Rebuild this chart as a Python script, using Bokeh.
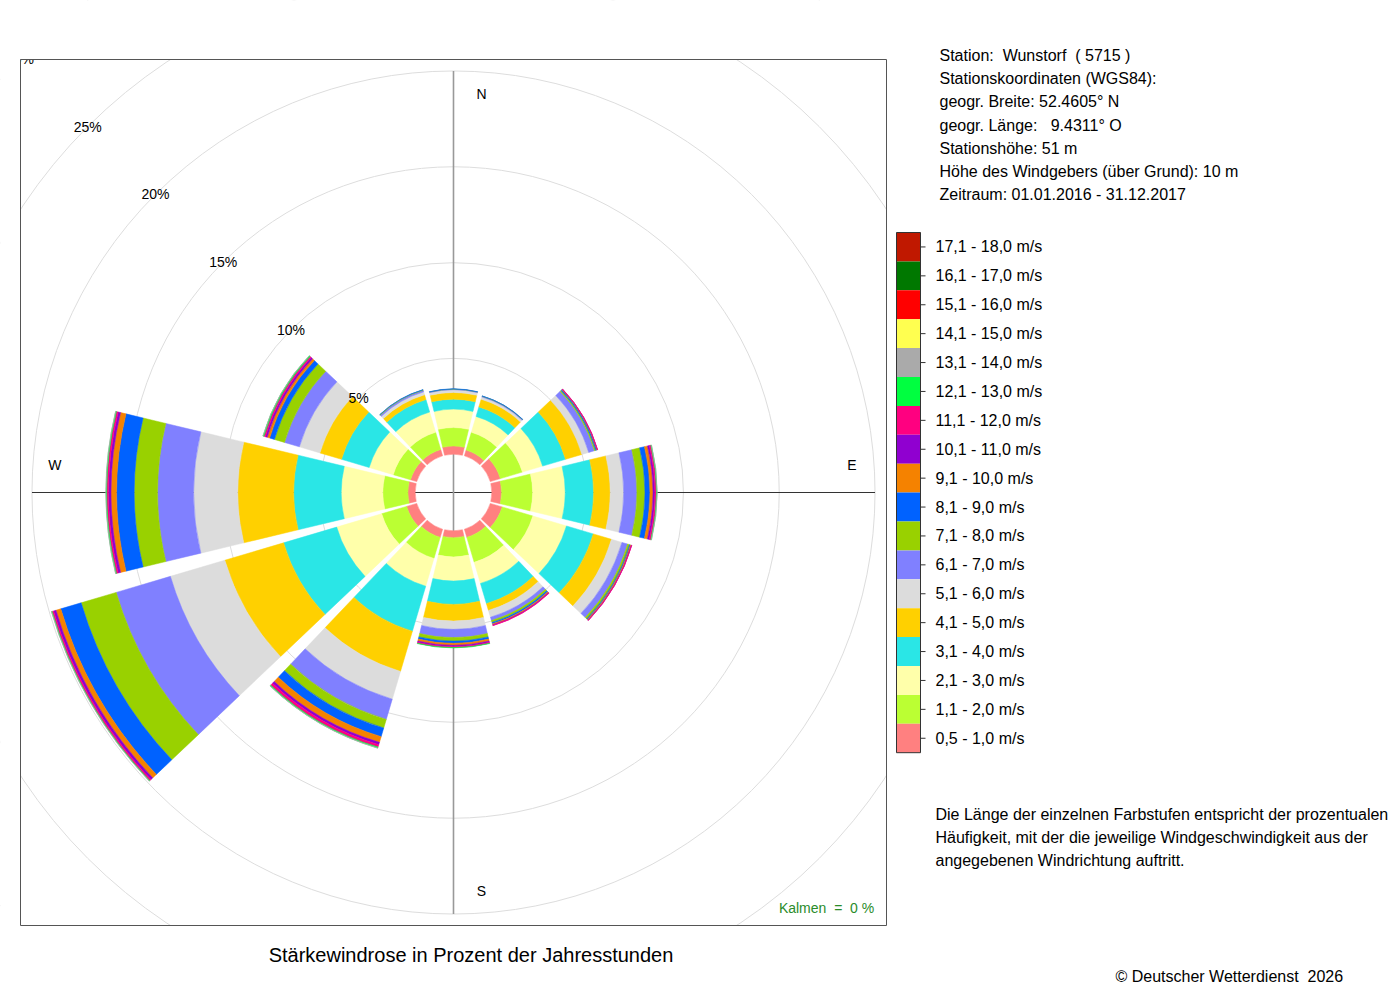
from bokeh.plotting import figure
from bokeh.models import Range1d, ColumnDataSource
from bokeh.layouts import row
from bokeh.core.properties import value
from bokeh.embed import file_html
from bokeh.resources import INLINE
import math

# ---------------- data ----------------
directions = [0, 30, 60, 90, 120, 150, 180, 210, 240, 270, 300, 330]

speed_classes = ["0,5 - 1,0 m/s", "1,1 - 2,0 m/s", "2,1 - 3,0 m/s", "3,1 - 4,0 m/s",
                 "4,1 - 5,0 m/s", "5,1 - 6,0 m/s", "6,1 - 7,0 m/s", "7,1 - 8,0 m/s",
                 "8,1 - 9,0 m/s", "9,1 - 10,0 m/s", "10,1 - 11,0 m/s", "11,1 - 12,0 m/s",
                 "12,1 - 13,0 m/s", "13,1 - 14,0 m/s", "14,1 - 15,0 m/s", "15,1 - 16,0 m/s",
                 "16,1 - 17,0 m/s", "17,1 - 18,0 m/s"]

class_colors = ["#FF8080", "#BBFF33", "#FFFFAA", "#2AE6E6", "#FFD000", "#DCDCDC",
                "#8080FF", "#99D100", "#0062FF", "#F58200", "#9000D0", "#FF0080",
                "#00FF40", "#AAAAAA", "#FFFF50", "#FF0000", "#007800", "#C01800"]

# percent of hours per direction sector and speed class (low -> high)
f000 = [0.43, 0.96, 0.96, 0.52, 0.35, 0.14, 0.03, 0.01, 0.01, 0, 0, 0, 0, 0, 0, 0, 0, 0]
f030 = [0.31, 0.97, 0.86, 0.52, 0.42, 0.12, 0.04, 0.01, 0.01, 0, 0, 0, 0, 0, 0, 0, 0, 0]
f060 = [0.55, 1.20, 1.10, 1.25, 0.89, 0.37, 0.31, 0.07, 0.06, 0.03, 0.01, 0.01, 0, 0, 0, 0, 0, 0]
f090 = [0.51, 1.62, 1.70, 1.48, 0.87, 0.70, 0.69, 0.42, 0.26, 0.16, 0.10, 0.08, 0.03, 0.01, 0, 0, 0, 0]
f120 = [0.65, 1.67, 1.83, 1.46, 0.99, 0.57, 0.31, 0.10, 0.05, 0.05, 0.02, 0.01, 0, 0, 0, 0, 0, 0]
f150 = [0.44, 1.36, 1.15, 1.10, 0.37, 0.37, 0.18, 0.10, 0.08, 0.05, 0.03, 0.02, 0, 0, 0, 0, 0, 0]
f180 = [0.36, 1.00, 1.26, 1.22, 0.87, 0.43, 0.43, 0.18, 0.12, 0.10, 0.07, 0.05, 0.02, 0, 0, 0, 0, 0]
f210 = [0.44, 1.15, 1.51, 2.45, 2.19, 1.51, 1.10, 0.47, 0.47, 0.31, 0.13, 0.13, 0.05, 0.01, 0, 0, 0, 0]
f240 = [0.55, 1.36, 2.45, 2.89, 3.20, 2.96, 2.95, 1.91, 1.11, 0.26, 0.13, 0.08, 0.03, 0.01, 0, 0, 0, 0]
f270 = [0.38, 1.31, 2.17, 2.48, 2.92, 2.30, 1.88, 1.22, 0.92, 0.29, 0.13, 0.09, 0.04, 0.01, 0, 0, 0, 0]
f300 = [0.34, 0.94, 1.31, 1.51, 1.17, 1.12, 0.81, 0.55, 0.26, 0.13, 0.10, 0.08, 0.05, 0.01, 0, 0, 0, 0]
f330 = [0.34, 0.94, 1.10, 0.68, 0.26, 0.16, 0.08, 0.03, 0.01, 0, 0, 0, 0, 0, 0, 0, 0, 0]
freqs = [f000, f030, f060, f090, f120, f150, f180, f210, f240, f270, f300, f330]

ring_values = [5, 10, 15, 20, 25, 30]
ring_labels = ["5%", "10%", "15%", "20%", "25%", "30%"]
compass_labels = ["N", "E", "S", "W"]
NB = "\u00a0"
calm_text = "Kalmen" + NB + " =" + NB + " 0 %"
title_text = "Stärkewindrose in Prozent der Jahresstunden"

station_lines = ["Station:" + NB + " Wunstorf" + NB + " ( 5715 )",
                 "Stationskoordinaten (WGS84):",
                 "geogr. Breite: 52.4605° N",
                 "geogr. Länge:" + NB + NB + " 9.4311° O",
                 "Stationshöhe: 51 m",
                 "Höhe des Windgebers (über Grund): 10 m",
                 "Zeitraum: 01.01.2016 - 31.12.2017"]
note_lines = ["Die Länge der einzelnen Farbstufen entspricht der prozentualen",
              "Häufigkeit, mit der die jeweilige Windgeschwindigkeit aus der",
              "angegebenen Windrichtung auftritt."]
copyright_text = "© Deutscher Wetterdienst" + NB + " 2026"

# ---------------- layout constants ----------------
FONT = "Liberation Sans"
HOLE = 2.0          # empty centre, in percent units
SPAN = 27.0         # angular width of a sector in degrees
W_A, W_B, H = 890, 500, 995   # canvas sizes in px
CX, CY = 453, 492   # centre of the rose in px
K = 19.16           # px per percent
R = 433 / K         # half size of the square box, percent units

# ---------------- wind rose ----------------
p = figure(width=W_A, height=H,
           x_range=Range1d(-CX / K, (W_A - CX) / K),
           y_range=Range1d(-(H - CY) / K, CY / K),
           output_backend="svg", toolbar_location=None, min_border=0,
           x_axis_location=None, y_axis_location=None)
p.grid.visible = False
p.outline_line_color = None
p.background_fill_color = "white"
p.border_fill_color = "white"

ring_r = [HOLE + v for v in ring_values]
p.circle(x=[0] * len(ring_r), y=[0] * len(ring_r), radius=ring_r,
         fill_color=None, line_color="#DDDDDD", line_width=1)

ax_len = HOLE + 20
p.segment(x0=[-ax_len], y0=[0], x1=[ax_len], y1=[0], line_color="#333333", line_width=1)
p.segment(x0=[0], y0=[-ax_len], x1=[0], y1=[ax_len], line_color="#999999", line_width=1.6)

wed = dict(start=[], end=[], inner=[], outer=[], color=[])
for d, f in zip(directions, freqs):
    cum = HOLE
    for ci, v in enumerate(f):
        if v <= 0:
            continue
        wed["inner"].append(cum)
        cum += v
        wed["outer"].append(cum)
        a0 = 90 - d - SPAN / 2
        wed["start"].append(a0)
        wed["end"].append(a0 + SPAN)
        wed["color"].append(class_colors[ci])
src = ColumnDataSource(wed)
p.annular_wedge(x=0, y=0, inner_radius="inner", outer_radius="outer",
                start_angle="start", end_angle="end",
                start_angle_units="deg", end_angle_units="deg",
                fill_color="color", line_color="color", line_width=0.5, source=src)

diag = math.sqrt(0.5)
p.text(x=[-r * diag for r in ring_r], y=[r * diag for r in ring_r], text=ring_labels,
       text_align="center", text_baseline="middle", text_color="black",
       text_font=value(FONT), text_font_size=value("14px"))

LR, OFF = 20.8, 1.46
p.text(x=[OFF, LR, OFF, -LR], y=[LR, OFF, -LR, OFF], text=compass_labels,
       text_align="center", text_baseline="middle", text_color="black",
       text_font=value(FONT), text_font_size=value("14px"))

# white masks outside the square box (clip region of the rose)
E = 10.0
xr0, xr1 = -CX / K - E, (W_A - CX) / K + E
yr0, yr1 = -(H - CY) / K - E, CY / K + E
p.quad(left=[xr0, R, -R - 1, -R - 1], right=[-R, xr1, R + 1, R + 1],
       bottom=[yr0, yr0, R, yr0], top=[yr1, yr1, yr1, -R],
       fill_color="white", line_color=None)
p.quad(left=[-R], right=[R], bottom=[-R], top=[R], fill_color=None,
       line_color="#555555", line_width=1)

p.text(x=[19.47], y=[-21.71], text=[calm_text], text_align="center", text_baseline="middle",
       text_color="#2A8C2A", text_font=value(FONT), text_font_size=value("14px"))

p.text(x=[(470.5 - CX) / K], y=[(CY - 954) / K], text=[title_text], text_align="center",
       text_baseline="middle", text_color="black", text_font=value(FONT),
       text_font_size=value("20px"))

# ---------------- side panel (station info + legend) ----------------
q = figure(width=W_B, height=H, x_range=Range1d(W_A, W_A + W_B), y_range=Range1d(H, 0),
           output_backend="svg", toolbar_location=None, min_border=0,
           x_axis_location=None, y_axis_location=None)
q.grid.visible = False
q.outline_line_color = None
q.background_fill_color = "white"
q.border_fill_color = "white"

st_y = [55 + 23.17 * i for i in range(len(station_lines))]
q.text(x=[939] * len(station_lines), y=st_y, text=station_lines, text_align="left",
       text_baseline="middle", text_color="black", text_font=value(FONT),
       text_font_size=value("16px"))

n = len(speed_classes)
box_h = 28.9
top0 = 232
order = list(range(n - 1, -1, -1))  # highest class on top
tops = [top0 + k * box_h for k in range(n)]
q.quad(left=896, right=920, top=tops, bottom=[t + box_h for t in tops],
       fill_color=[class_colors[i] for i in order], line_color=None)
q.quad(left=[896], right=[920], top=[top0], bottom=[top0 + n * box_h],
       fill_color=None, line_color="#333333", line_width=1)
mids = [t + box_h / 2 for t in tops]
q.segment(x0=[920] * n, y0=mids, x1=[925] * n, y1=mids, line_color="#333333", line_width=1)
q.text(x=[935] * n, y=mids, text=[speed_classes[i] for i in order], text_align="left",
       text_baseline="middle", text_color="black", text_font=value(FONT),
       text_font_size=value("16px"))

q.text(x=[935] * len(note_lines), y=[814 + 23 * i for i in range(len(note_lines))],
       text=note_lines, text_align="left", text_baseline="middle", text_color="black",
       text_font=value(FONT), text_font_size=value("16px"))

q.text(x=[1115], y=[976], text=[copyright_text], text_align="left", text_baseline="middle",
       text_color="black", text_font=value(FONT), text_font_size=value("16px"))

layout = row(p, q)
open("out.html", "w").write(file_html(layout, INLINE))
